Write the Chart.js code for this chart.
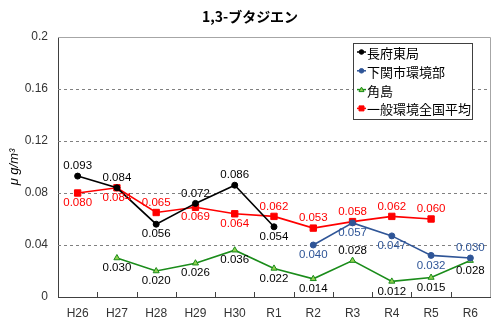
<!DOCTYPE html>
<html>
<head>
<meta charset="utf-8">
<script src="https://cdn.jsdelivr.net/npm/chart.js@4"></script>
<style>
  html, body { margin: 0; padding: 0; background: #fff; }
  #wrap { width: 500px; height: 326px; }
</style>
</head>
<body>
<div id="wrap"><canvas id="chart" width="500" height="326"></canvas></div>
<script>
// Chart data
const years = ["H26", "H27", "H28", "H29", "H30", "R1", "R2", "R3", "R4", "R5", "R6"];
const chofuHigashi = [0.093, 0.084, 0.056, 0.072, 0.086, 0.054, null, null, null, null, null];
const shimonoseki = [null, null, null, null, null, null, 0.040, 0.057, 0.047, 0.032, 0.030];
const tsunoshima = [null, 0.030, 0.020, 0.026, 0.036, 0.022, 0.014, 0.028, 0.012, 0.015, 0.028];
const nationalAvg = [0.080, 0.084, 0.065, 0.069, 0.064, 0.062, 0.053, 0.058, 0.062, 0.060, null];
const yTicks = [0, 0.04, 0.08, 0.12, 0.16, 0.2];

// where each value label sits (1 = above the point, -1 = below)
const labelSide = [
  [1, 1, -1, 1, 1, -1, 0, 0, 0, 0, 0],
  [0, 0, 0, 0, 0, 0, -1, -1, -1, -1, 1],
  [0, -1, -1, -1, -1, -1, -1, 1, -1, -1, -1],
  [-1, -1, 1, -1, -1, 1, 1, 1, 1, 1, 0],
];
const labelColors = ["#000000", "#2F5597", "#000000", "#FF0000"];

const FONT = "'Liberation Sans', Arial, sans-serif";
const CJK = "'Noto Sans CJK JP', sans-serif";

// draws the frame, dashed grid, inner x ticks, value labels, legend and title
const decorPlugin = {
  id: "decor",
  beforeDatasetsDraw(chart) {
    const { ctx, chartArea: a, scales } = chart;
    ctx.save();
    ctx.lineWidth = 1;
    // dashed horizontal grid
    ctx.strokeStyle = "#808080";
    ctx.setLineDash([3, 3]);
    ctx.beginPath();
    yTicks.forEach((v) => {
      if (v <= 0 || v >= 0.2) return;
      const py = Math.round(scales.y.getPixelForValue(v)) + 0.5;
      ctx.moveTo(a.left, py);
      ctx.lineTo(a.right, py);
    });
    ctx.stroke();
    ctx.setLineDash([]);
    // top and right frame
    ctx.strokeStyle = "#a6a6a6";
    ctx.beginPath();
    ctx.moveTo(a.left, a.top + 0.5);
    ctx.lineTo(a.right + 0.5, a.top + 0.5);
    ctx.lineTo(a.right + 0.5, a.bottom);
    ctx.stroke();
    // inner tick marks between categories
    const x = scales.x;
    const step = x.getPixelForValue(1) - x.getPixelForValue(0);
    ctx.strokeStyle = "#404040";
    ctx.beginPath();
    for (let i = 1; i < years.length; i++) {
      const px = Math.round(x.getPixelForValue(i) - step / 2) + 0.5;
      ctx.moveTo(px, a.bottom);
      ctx.lineTo(px, a.bottom - 5);
    }
    ctx.stroke();
    ctx.restore();
  },
  afterDatasetsDraw(chart) {
    const { ctx } = chart;
    ctx.save();
    ctx.font = "11.5px " + FONT;
    ctx.textAlign = "center";
    ctx.textBaseline = "middle";
    chart.data.datasets.forEach((ds, i) => {
      const meta = chart.getDatasetMeta(i);
      ds.data.forEach((v, j) => {
        if (v === null) return;
        const pt = meta.data[j];
        ctx.fillStyle = labelColors[i];
        ctx.fillText(v.toFixed(3), pt.x, pt.y - 10 * labelSide[i][j]);
      });
    });

    // legend box
    const lx = 353, ly = 43, lw = 119, lh = 76;
    ctx.fillStyle = "#fff";
    ctx.fillRect(lx, ly, lw, lh);
    ctx.strokeStyle = "#404040";
    ctx.lineWidth = 1;
    ctx.strokeRect(lx + 0.5, ly + 0.5, lw, lh);
    ctx.textAlign = "left";
    ctx.font = "13px " + CJK;
    chart.data.datasets.forEach((ds, i) => {
      const y = 52 + i * 18.8;
      ctx.strokeStyle = ds.borderColor;
      ctx.lineWidth = 1.5;
      ctx.beginPath();
      ctx.moveTo(357, y);
      ctx.lineTo(366, y);
      ctx.stroke();
      ctx.fillStyle = ds.pointBackgroundColor;
      ctx.strokeStyle = ds.pointBorderColor;
      ctx.lineWidth = 1;
      ctx.beginPath();
      if (ds.pointStyle === "rect") {
        ctx.rect(359, y - 2.5, 5, 5);
      } else if (ds.pointStyle === "triangle") {
        ctx.moveTo(361.5, y - 2.5);
        ctx.lineTo(364, y + 2);
        ctx.lineTo(359, y + 2);
        ctx.closePath();
      } else {
        ctx.arc(361.5, y, 2.3, 0, Math.PI * 2);
      }
      ctx.fill();
      ctx.stroke();
      ctx.fillStyle = "#000";
      ctx.fillText(ds.label, 367, y + 1);
    });

    // title
    ctx.font = "bold 14px " + CJK;
    ctx.textAlign = "center";
    ctx.fillStyle = "#000";
    ctx.fillText("1,3-ブタジエン", 250, 17);
    ctx.restore();
  },
};

function lineSet(label, data, color, style, fill, radius) {
  return {
    label: label,
    data: data,
    borderColor: color,
    backgroundColor: color,
    borderWidth: 1.6,
    pointStyle: style,
    pointRadius: radius,
    pointBackgroundColor: fill,
    pointBorderColor: color,
    pointBorderWidth: 1,
    tension: 0,
    spanGaps: false,
  };
}

new Chart(document.getElementById("chart"), {
  type: "line",
  data: {
    labels: years,
    datasets: [
      lineSet("長府東局", chofuHigashi, "#000000", "circle", "#000000", 3),
      lineSet("下関市環境部", shimonoseki, "#2F5597", "circle", "#2F5597", 3),
      lineSet("角島", tsunoshima, "#1A8C1A", "triangle", "#92D050", 3.5),
      lineSet("一般環境全国平均", nationalAvg, "#FF0000", "rect", "#FF0000", 4.5),
    ],
  },
  options: {
    responsive: false,
    animation: false,
    layout: { padding: { top: 37, right: 10, left: 0, bottom: 0 } },
    plugins: {
      legend: { display: false },
      tooltip: { enabled: false },
    },
    scales: {
      x: {
        offset: true,
        afterFit: (s) => { s.height = 29; },
        grid: { display: false, drawTicks: false },
        border: { display: true, color: "#404040", width: 1 },
        ticks: { color: "#333", font: { family: FONT, size: 12 }, padding: 9 },
      },
      y: {
        min: 0,
        max: 0.2,
        afterFit: (s) => { s.width = 58; },
        afterBuildTicks: (s) => { s.ticks = yTicks.map((v) => ({ value: v })); },
        border: { display: true, color: "#404040", width: 1 },
        grid: { display: false, drawTicks: false },
        ticks: {
          color: "#333",
          font: { family: FONT, size: 12 },
          padding: 10,
          callback: (v) => String(Math.round(v * 100) / 100),
        },
        title: {
          display: true,
          text: "μ g/m³",
          color: "#000",
          font: { family: FONT, size: 13, style: "italic" },
          padding: { top: 7, bottom: 0 },
        },
      },
    },
  },
  plugins: [decorPlugin],
});
</script>
</body>
</html>
